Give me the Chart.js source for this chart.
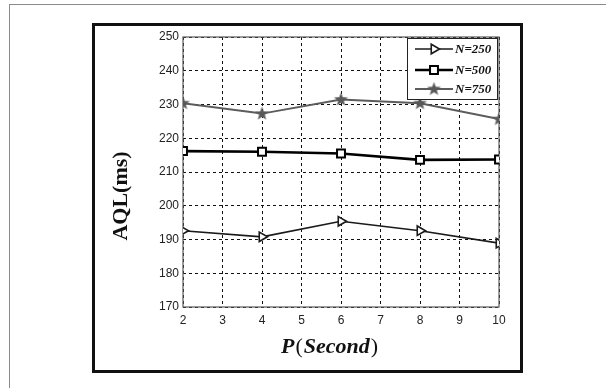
<!DOCTYPE html>
<html>
<head>
<meta charset="utf-8">
<script src="https://cdn.jsdelivr.net/npm/chart.js@4.4.1/dist/chart.umd.min.js"></script>
<style>
  html, body { margin: 0; padding: 0; background: #fff; }
  #page { position: absolute; left: 9px; top: 4px; width: 597px; height: 384px;
          border-left: 1px solid #8a8a8a; border-top: 1px solid #8a8a8a; }
  #box { position: absolute; left: 92px; top: 23px; width: 425px; height: 344px;
         border: 3px solid #111; }
  #wrap { position: absolute; left: 0; top: 0; width: 606px; height: 388px; }
</style>
</head>
<body>
<div id="page"></div>
<div id="box"></div>
<div id="wrap"><canvas id="aqlChart" width="606" height="388"></canvas></div>
<script>
// x values (P in seconds)
const periods = [2, 4, 6, 8, 10];
const seriesNames = ["N=250", "N=500", "N=750"];
// AQL(ms)
const aqlN250 = [192.6, 190.8, 195.4, 192.6, 188.9];
const aqlN500 = [216.2, 216.0, 215.5, 213.6, 213.7];
const aqlN750 = [230.4, 227.3, 231.5, 230.4, 225.7];
const xTicks = [2, 3, 4, 5, 6, 7, 8, 9, 10];
const yTicks = [170, 180, 190, 200, 210, 220, 230, 240, 250];

const toPoints = (vals) => periods.map((p, i) => ({ x: p, y: vals[i] }));

// filled star marker
const makeStar = (color) => {
  const c = document.createElement("canvas");
  c.width = 15;
  c.height = 15;
  const g = c.getContext("2d");
  g.fillStyle = color;
  g.beginPath();
  for (let i = 0; i < 10; i++) {
    const r = i % 2 === 0 ? 7.2 : 3.0;
    const a = -Math.PI / 2 + (i * Math.PI) / 5;
    const px = 7.5 + r * Math.cos(a);
    const py = 7.8 + r * Math.sin(a);
    if (i === 0) g.moveTo(px, py);
    else g.lineTo(px, py);
  }
  g.closePath();
  g.fill();
  return c;
};
const starImg = makeStar("#595959");

const decorPlugin = {
  id: "decor",
  beforeDatasetsDraw(chart) {
    const { ctx, chartArea: a } = chart;
    ctx.save();
    ctx.strokeStyle = "#5a5a5a";
    ctx.lineWidth = 1.2;
    ctx.strokeRect(a.left, a.top, a.right - a.left, a.bottom - a.top);
    ctx.restore();
  },
  afterDraw(chart) {
    const { ctx } = chart;
    ctx.save();

    // legend
    const lx = 407, ly = 38, lw = 90, lh = 61;
    ctx.fillStyle = "#fff";
    ctx.fillRect(lx, ly, lw, lh);
    ctx.strokeStyle = "#222";
    ctx.lineWidth = 1;
    ctx.strokeRect(lx + 0.5, ly + 0.5, lw, lh);
    const rows = [49, 70, 89];
    chart.data.datasets.forEach((ds, i) => {
      const y = rows[i];
      ctx.strokeStyle = ds.borderColor;
      ctx.lineWidth = ds.borderWidth;
      ctx.beginPath();
      ctx.moveTo(415, y);
      ctx.lineTo(453, y);
      ctx.stroke();
      ctx.fillStyle = ds.pointBackgroundColor;
      ctx.strokeStyle = ds.pointBorderColor;
      ctx.lineWidth = ds.pointBorderWidth;
      Chart.helpers.drawPoint(ctx, {
        pointStyle: ds.pointStyle,
        rotation: ds.pointRotation || 0,
        radius: ds.pointRadius,
        borderWidth: ds.pointBorderWidth
      }, 434, y);
      ctx.fillStyle = "#111";
      ctx.font = "italic bold 13px 'Liberation Serif', 'Times New Roman', serif";
      ctx.textAlign = "left";
      ctx.textBaseline = "middle";
      ctx.fillText(ds.label, 455, y + 1);
    });

    // y title
    ctx.fillStyle = "#111";
    ctx.save();
    ctx.translate(121, 196);
    ctx.rotate(-Math.PI / 2);
    ctx.font = "bold 22px 'Liberation Serif', 'Times New Roman', serif";
    ctx.textAlign = "center";
    ctx.textBaseline = "middle";
    ctx.fillText("AQL(ms)", 0, 0);
    ctx.restore();

    // x title, mixed styles
    const bi = "italic bold 22px 'Liberation Serif', 'Times New Roman', serif";
    const up = "22px 'Liberation Serif', 'Times New Roman', serif";
    const parts = [["P", bi], ["(", up], ["Second", bi], [")", up]];
    let total = 0;
    parts.forEach(([t, f]) => { ctx.font = f; total += ctx.measureText(t).width + 1; });
    let x = 330 - total / 2;
    ctx.textAlign = "left";
    ctx.textBaseline = "alphabetic";
    parts.forEach(([t, f]) => {
      ctx.font = f;
      ctx.fillText(t, x, 353);
      x += ctx.measureText(t).width + 1;
    });
    ctx.restore();
  }
};

const ctx = document.getElementById("aqlChart");
const aqlChart = new Chart(ctx, {
  type: "line",
  data: {
    datasets: [
      {
        label: seriesNames[0],
        data: toPoints(aqlN250),
        borderColor: "#1a1a1a",
        borderWidth: 1.7,
        pointStyle: "triangle",
        pointRotation: 90,
        pointRadius: 5.5,
        pointBorderWidth: 1.6,
        pointBackgroundColor: "#fff",
        pointBorderColor: "#1a1a1a"
      },
      {
        label: seriesNames[1],
        data: toPoints(aqlN500),
        borderColor: "#000",
        borderWidth: 2.6,
        pointStyle: "rect",
        pointRadius: 5.6,
        pointBorderWidth: 2,
        pointBackgroundColor: "#fff",
        pointBorderColor: "#000"
      },
      {
        label: seriesNames[2],
        data: toPoints(aqlN750),
        borderColor: "#5c5c5c",
        borderWidth: 2,
        pointStyle: starImg,
        pointRadius: 7,
        pointBorderWidth: 0,
        pointBackgroundColor: "#595959",
        pointBorderColor: "#595959"
      }
    ]
  },
  options: {
    responsive: false,
    animation: false,
    events: [],
    layout: { padding: { left: 143, top: 37, right: 107, bottom: 56 } },
    plugins: { legend: { display: false }, tooltip: { enabled: false } },
    elements: { line: { tension: 0 } },
    scales: {
      x: {
        type: "linear",
        min: 2,
        max: 10,
        afterFit: (s) => { s.height = 25; },
        afterBuildTicks: (s) => { s.ticks = xTicks.map((v) => ({ value: v })); },
        grid: { color: "#111", lineWidth: 1, drawTicks: false },
        border: { display: false, dash: [3, 3] },
        ticks: {
          padding: 6,
          color: "#222",
          font: { family: "'Liberation Sans', Arial, sans-serif", size: 12 },
          maxRotation: 0
        }
      },
      y: {
        min: 170,
        max: 250,
        afterFit: (s) => { s.width = 40; },
        afterBuildTicks: (s) => { s.ticks = yTicks.map((v) => ({ value: v })); },
        grid: { color: "#111", lineWidth: 1, drawTicks: false },
        border: { display: false, dash: [3, 3] },
        ticks: {
          padding: 4,
          color: "#222",
          font: { family: "'Liberation Sans', Arial, sans-serif", size: 12 }
        }
      }
    }
  },
  plugins: [decorPlugin]
});
</script>
</body>
</html>
